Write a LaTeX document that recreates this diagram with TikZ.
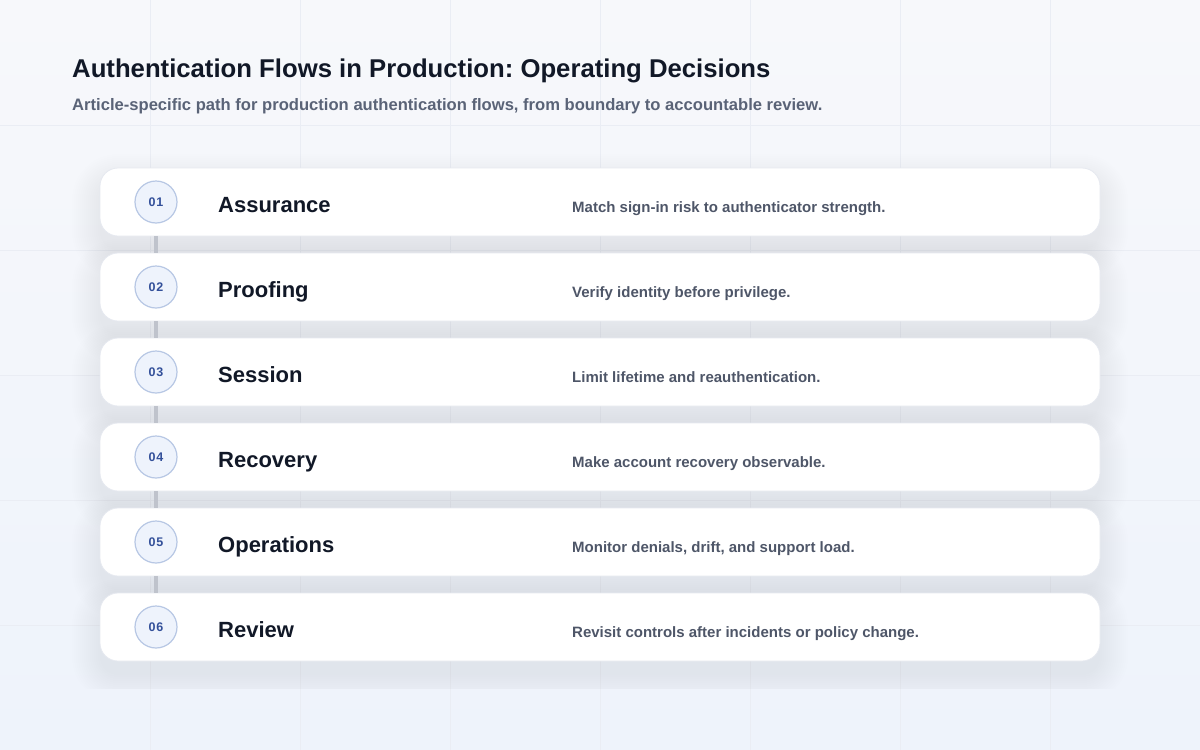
\documentclass[tikz,border=0pt]{standalone}
\usepackage{fontspec}
\setmainfont{Liberation Sans}
\usetikzlibrary{calc}
\definecolor{bgtop}{HTML}{F7F8FB}
\definecolor{bgbot}{HTML}{EEF3FB}
\definecolor{gridc}{HTML}{EAEDF4}
\definecolor{titlec}{HTML}{111827}
\definecolor{subc}{HTML}{5A6377}
\definecolor{descc}{HTML}{4E5668}
\definecolor{shadowc}{HTML}{42519A}
\definecolor{cardline}{HTML}{E6E9F0}
\definecolor{badgefill}{HTML}{EEF3FC}
\definecolor{badgeline}{HTML}{B7C7E4}
\definecolor{badgetext}{HTML}{33509A}
\definecolor{connc}{HTML}{BFC3CC}
\tikzset{
  card/.style={draw=cardline, line width=0.8pt, fill=white, rounded corners=18pt,
    minimum width=1000pt, minimum height=68pt, inner sep=0pt},
  badge/.style={circle, draw=badgeline, line width=1.2pt, fill=badgefill,
    minimum size=42pt, inner sep=0pt, text=badgetext,
    font=\bfseries\fontsize{12.5}{14}\selectfont\addfontfeatures{LetterSpace=6}},
  steptitle/.style={anchor=base west, inner sep=0pt, text=titlec,
    font=\bfseries\fontsize{22}{26}\selectfont},
  stepdesc/.style={anchor=base west, inner sep=0pt, text=descc,
    font=\bfseries\fontsize{15}{18}\selectfont},
  conn/.style={draw=connc, line width=3.5pt},
  gridline/.style={draw=gridc, line width=1pt}
}
\frenchspacing
\begin{document}
\begin{tikzpicture}[x=1pt,y=-1pt]
\useasboundingbox (0,0) rectangle (1200,750);
\shade[top color=bgtop, bottom color=bgbot] (0,0) rectangle (1200,750);
% faint grid
\foreach \gx in {150,300,...,1050} \draw[gridline] (\gx,0) -- (\gx,750);
\foreach \gy in {125,250,...,625} \draw[gridline] (0,\gy) -- (1200,\gy);
% title
\node[anchor=base west, inner sep=0pt, text=titlec, font=\bfseries\fontsize{25.7}{30}\selectfont] (title) at (72,77) {Authentication Flows in Production: Operating Decisions};
\node[anchor=base west, inner sep=0pt, text=subc, font=\bfseries\fontsize{16.6}{19}\selectfont] (subtitle) at (72,110) {Article-specific path for production authentication flows, from boundary to accountable review.};
% shadows
\begin{scope}
\clip (0,0) rectangle (1200,688);
\foreach \k in {0,...,5}{
  \pgfmathsetmacro{\yc}{202+85*\k}
  \foreach \e in {0,2,...,28}{
    \fill[shadowc, opacity=0.0042, rounded corners=18+\e]
      (100-\e,\yc-34-\e+14) rectangle (1100+\e,\yc+34+\e+14);
  }
}
\end{scope}
% cards
\foreach \k/\num/\ttl/\dsc in {
  1/01/Assurance/Match sign-in risk to authenticator strength.,
  2/02/Proofing/Verify identity before privilege.,
  3/03/Session/Limit lifetime and reauthentication.,
  4/04/Recovery/Make account recovery observable.,
  5/05/Operations/{Monitor denials, drift, and support load.},
  6/06/Review/Revisit controls after incidents or policy change.}{
  \pgfmathsetmacro{\yc}{202+85*(\k-1)}
  \node[card] (card\k) at (600,\yc) {};
  \node[badge] (c\k) at (156,\yc) {\num};
  \node[steptitle] (t\k) at (218,\yc+10) {\ttl};
  \node[stepdesc] (d\k) at (572,\yc+10) {\dsc};
}
% connectors
\foreach \a/\b in {1/2,2/3,3/4,4/5,5/6}
  \draw[conn] (card\a.south -| c\a) -- (card\b.north -| c\b);
\end{tikzpicture}
\end{document}
